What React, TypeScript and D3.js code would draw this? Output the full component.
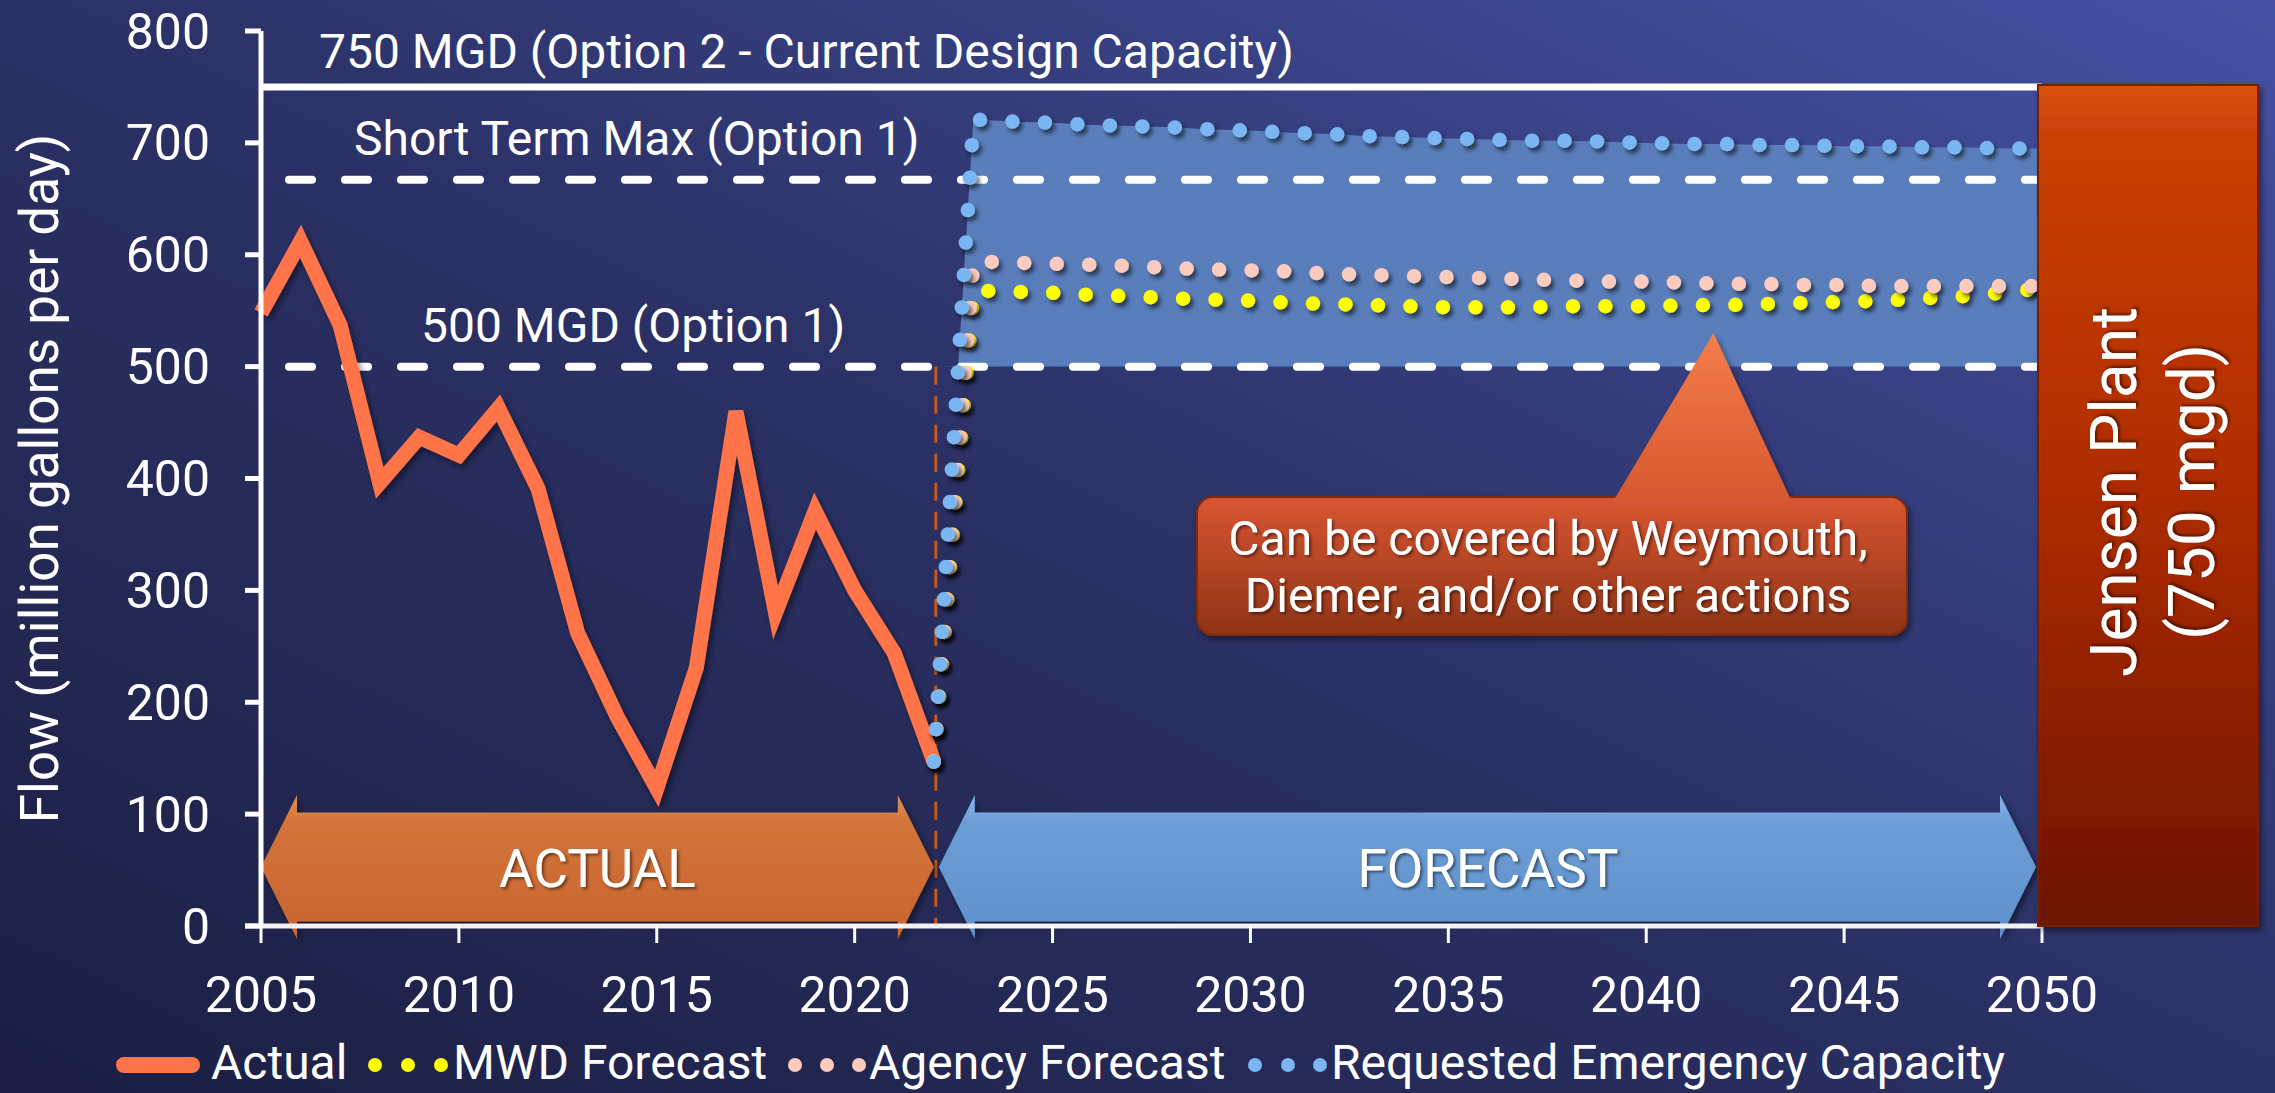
import React from "react";
import * as d3 from "d3";

const W = 2275;
const H = 1093;

// Historical flow, million gallons per day
const actualYears = [2005, 2006, 2007, 2008, 2009, 2010, 2011, 2012, 2013, 2014, 2015, 2016, 2017, 2018, 2019, 2020, 2021, 2022];
const actualFlow = [548, 612, 537, 396, 437, 421, 463, 391, 262, 187, 123, 231, 460, 280, 371, 300, 244, 147];

// Forecast horizon
const forecastYears = [2022, 2023, 2024, 2025, 2026, 2027, 2028, 2029, 2030, 2031, 2032, 2033, 2034, 2035, 2036, 2037, 2038, 2039, 2040, 2041, 2042, 2043, 2044, 2045, 2046, 2047, 2048, 2049, 2050];
const mwdForecast = [147, 568, 567, 566, 564, 563, 561, 560, 559, 557, 556, 555, 554, 553, 553, 553, 554, 554, 554, 555, 555, 556, 557, 558, 559, 561, 563, 566, 570];
const agencyForecast = [147, 594, 593, 592, 591, 590, 588, 587, 586, 585, 583, 582, 581, 580, 579, 578, 577, 576, 576, 575, 574, 574, 573, 573, 572, 572, 572, 572, 572];
const requestedCapacity = [147, 721, 719, 718, 716, 715, 714, 712, 711, 709, 708, 706, 705, 704, 703, 702, 702, 701, 700, 699, 699, 698, 698, 697, 697, 696, 696, 695, 695];

const yTicks = [0, 100, 200, 300, 400, 500, 600, 700, 800];
const xTicks = [2005, 2010, 2015, 2020, 2025, 2030, 2035, 2040, 2045, 2050];

// Capacity reference levels
const capacityLevels = [750, 667, 500];
const capacityLabels = ["750 MGD (Option 2 - Current Design Capacity)", "Short Term Max (Option 1)", "500 MGD (Option 1)"];
const capacityDashed = [false, true, true];

const bandFloor = 500;
const plantCapacity = 750;
const dividerYear = 2022;
const calloutTarget = { year: 2041.7, value: 530 };
const calloutLines = ["Can be covered by Weymouth,", "Diemer, and/or other actions"];
const plantLines = ["Jensen Plant", "(750 mgd)"];

const legendLabels = ["Actual", "MWD Forecast", "Agency Forecast", "Requested Emergency Capacity"];
const legendColors = ["#ff7449", "#ffff00", "#fbcbbd", "#7ab6f2"];

const FONT = "Roboto, 'Noto Sans', sans-serif";

const x = d3.scaleLinear().domain([2005, 2050]).range([261, 2042]);
const y = d3.scaleLinear().domain([0, 800]).range([926, 31]);

type Pt = [number, number];

const lineGen = d3
  .line<Pt>()
  .x((d) => x(d[0]))
  .y((d) => y(d[1]));

const bandGen = d3
  .area<Pt>()
  .x((d) => x(d[0]))
  .y0(() => y(bandFloor))
  .y1((d) => y(d[1]));

function zip(xs: number[], ys: number[]): Pt[] {
  return xs.map((v, i) => [v, ys[i]] as Pt);
}

function doubleArrow(x0: number, x1: number, yc: number, bodyHalf: number, headHalf: number, headLen: number) {
  const p = d3.path();
  p.moveTo(x0, yc);
  p.lineTo(x0 + headLen, yc - headHalf);
  p.lineTo(x0 + headLen, yc - bodyHalf);
  p.lineTo(x1 - headLen, yc - bodyHalf);
  p.lineTo(x1 - headLen, yc - headHalf);
  p.lineTo(x1, yc);
  p.lineTo(x1 - headLen, yc + headHalf);
  p.lineTo(x1 - headLen, yc + bodyHalf);
  p.lineTo(x0 + headLen, yc + bodyHalf);
  p.lineTo(x0 + headLen, yc + headHalf);
  p.closePath();
  return p.toString();
}

const dotted = {
  fill: "none",
  strokeWidth: 14.5,
  strokeLinecap: "round" as const,
  strokeLinejoin: "round" as const,
  strokeDasharray: "0 32.5",
};

export default function App() {
  const x0 = x(2005);
  const x1 = x(2050);
  const y0 = y(0);

  const arrowY = y0 - 59;
  const forecastSeries = [
    { values: mwdForecast, color: legendColors[1] },
    { values: agencyForecast, color: legendColors[2] },
    { values: requestedCapacity, color: legendColors[3] },
  ];

  const labelPos = [
    { x: 319, y: 68 },
    { x: 354, y: 155 },
    { x: 421, y: 342 },
  ];

  // callout geometry
  const apexX = x(calloutTarget.year);
  const apexY = y(calloutTarget.value);
  const box = { left: 1197, right: 1907, top: 497, bottom: 635 };
  const boxCx = (box.left + box.right) / 2;

  // plant column
  const plantLeft = x(2050) - 4;
  const plantRight = 2258;
  const plantTop = y(plantCapacity) - 2;

  // legend positions
  const legendBase = 1079;
  const legendMid = 1065;
  const dotXs = [
    [375, 408, 441],
    [795, 827, 859],
    [1255, 1288, 1320],
  ];
  const textXs = [211, 453, 869, 1331];

  return (
    <svg
      width={W}
      height={H}
      viewBox={`0 0 ${W} ${H}`}
      style={{ position: "absolute", left: 0, top: 0, display: "block" }}
      fontFamily={FONT}
    >
      <defs>
        <linearGradient id="bg" x1="0" y1="1" x2="1" y2="0">
          <stop offset="0" stopColor="#1c1f43" />
          <stop offset="0.5" stopColor="#2b3165" />
          <stop offset="1" stopColor="#4551a3" />
        </linearGradient>
        <linearGradient id="actualArrow" x1="0" y1="0" x2="0" y2="1">
          <stop offset="0" stopColor="#e08f52" />
          <stop offset="0.2" stopColor="#d2733a" />
          <stop offset="1" stopColor="#c9652f" />
        </linearGradient>
        <linearGradient id="forecastArrow" x1="0" y1="0" x2="0" y2="1">
          <stop offset="0" stopColor="#86b4e6" />
          <stop offset="0.2" stopColor="#6c9dd6" />
          <stop offset="1" stopColor="#5f90cb" />
        </linearGradient>
        <linearGradient id="plant" x1="0" y1="0" x2="0" y2="1">
          <stop offset="0" stopColor="#d9520f" />
          <stop offset="0.06" stopColor="#cb4006" />
          <stop offset="0.5" stopColor="#ad2b02" />
          <stop offset="1" stopColor="#6c1405" />
        </linearGradient>
        <linearGradient id="calloutBox" x1="0" y1="0" x2="0" y2="1">
          <stop offset="0" stopColor="#d95632" />
          <stop offset="1" stopColor="#8e3316" />
        </linearGradient>
        <linearGradient id="calloutTip" x1="0" y1="0" x2="0" y2="1">
          <stop offset="0" stopColor="#f57c4a" />
          <stop offset="1" stopColor="#d6582f" />
        </linearGradient>
        <filter id="dotShadow" x="-10%" y="-10%" width="120%" height="120%">
          <feDropShadow dx="3" dy="4" stdDeviation="2" floodColor="#000" floodOpacity="0.55" />
        </filter>
        <filter id="softShadow" x="-10%" y="-10%" width="120%" height="130%">
          <feDropShadow dx="3" dy="4" stdDeviation="3" floodColor="#000" floodOpacity="0.45" />
        </filter>
        <filter id="textShadow" x="-5%" y="-20%" width="110%" height="140%">
          <feDropShadow dx="2" dy="2" stdDeviation="1.5" floodColor="#000" floodOpacity="0.5" />
        </filter>
        <clipPath id="bandClip">
          <rect x={x(dividerYear)} y={0} width={x1 - x(dividerYear)} height={y(bandFloor)} />
        </clipPath>
      </defs>

      <rect x={0} y={0} width={W} height={H} fill="url(#bg)" />

      {/* Forecast capacity band above 500 MGD */}
      <path
        d={bandGen(zip(forecastYears, requestedCapacity)) || ""}
        fill="#5b80bd"
        fillOpacity={0.97}
        clipPath="url(#bandClip)"
      />

      {/* Capacity reference lines */}
      {capacityLevels.map((v, i) =>
        capacityDashed[i] ? (
          <line
            key={v}
            x1={x0 + 28}
            x2={x1}
            y1={y(v)}
            y2={y(v)}
            stroke="#ffffff"
            strokeWidth={8}
            strokeLinecap="round"
            strokeDasharray="23 33"
          />
        ) : (
          <line key={v} x1={x0 + 2} x2={x1} y1={y(v)} y2={y(v)} stroke="#ffffff" strokeWidth={7} />
        )
      )}
      {capacityLabels.map((t, i) => (
        <text key={t} x={labelPos[i].x} y={labelPos[i].y} fill="#ffffff" fontSize={48}>
          {t}
        </text>
      ))}

      {/* Actual / forecast divider */}
      <line
        x1={x(dividerYear) + 2}
        x2={x(dividerYear) + 2}
        y1={y(bandFloor)}
        y2={y0}
        stroke="#c8581a"
        strokeWidth={3}
        strokeDasharray="18 11"
      />

      {/* Actual flow */}
      <path
        d={lineGen(zip(actualYears, actualFlow)) || ""}
        fill="none"
        stroke={legendColors[0]}
        strokeWidth={15}
        strokeLinejoin="miter"
        filter="url(#softShadow)"
      />

      {/* Forecast series */}
      {forecastSeries.map((s) => (
        <path
          key={s.color}
          d={lineGen(zip(forecastYears, s.values)) || ""}
          stroke={s.color}
          filter="url(#dotShadow)"
          {...dotted}
        />
      ))}

      {/* Period arrows */}
      <path
        d={doubleArrow(x(2005), x(2022), arrowY, 54.5, 72, 36)}
        fill="url(#actualArrow)"
        filter="url(#softShadow)"
      />
      <path
        d={doubleArrow(x(2022) + 5, x(2050) - 6, arrowY, 54.5, 72, 36)}
        fill="url(#forecastArrow)"
        filter="url(#softShadow)"
      />
      <text
        x={(x(2005) + x(2022)) / 2}
        y={arrowY + 20}
        fill="#ffffff"
        fontSize={53}
        textAnchor="middle"
        filter="url(#textShadow)"
      >
        ACTUAL
      </text>
      <text
        x={(x(2022) + x(2050)) / 2}
        y={arrowY + 20}
        fill="#ffffff"
        fontSize={53}
        textAnchor="middle"
        filter="url(#textShadow)"
      >
        FORECAST
      </text>

      {/* Axes */}
      <line x1={x0} x2={x0} y1={y(800)} y2={y0} stroke="#ffffff" strokeWidth={5} />
      <line x1={x0 - 16} x2={x1} y1={y0} y2={y0} stroke="#f2f2f2" strokeWidth={5} />
      {yTicks.map((t) => (
        <g key={t}>
          <line x1={x0 - 16} x2={x0} y1={y(t)} y2={y(t)} stroke="#ffffff" strokeWidth={5} />
          <text x={210} y={y(t)} dy="0.35em" fill="#ffffff" fontSize={50} textAnchor="end">
            {t}
          </text>
        </g>
      ))}
      {xTicks.map((t) => (
        <g key={t}>
          <line x1={x(t)} x2={x(t)} y1={y0} y2={y0 + 17} stroke="#ffffff" strokeWidth={3} />
          <text x={x(t)} y={1012} fill="#ffffff" fontSize={50} textAnchor="middle">
            {t}
          </text>
        </g>
      ))}
      <text
        transform={`translate(58, ${(y(0) + y(800)) / 2}) rotate(-90)`}
        fill="#ffffff"
        fontSize={53}
        textAnchor="middle"
      >
        Flow (million gallons per day)
      </text>

      {/* Callout */}
      <g filter="url(#softShadow)">
        <rect
          x={box.left}
          y={box.top}
          width={box.right - box.left}
          height={box.bottom - box.top}
          rx={16}
          fill="url(#calloutBox)"
          stroke="#7d2a10"
          strokeWidth={2}
        />
        <path
          d={`M${apexX},${apexY} L${apexX + 77},${box.top + 2} L${apexX - 99},${box.top + 2} Z`}
          fill="url(#calloutTip)"
        />
      </g>
      {calloutLines.map((t, i) => (
        <text
          key={t}
          x={boxCx - 4}
          y={555 + i * 57}
          fill="#ffffff"
          fontSize={48}
          textAnchor="middle"
          filter="url(#textShadow)"
        >
          {t}
        </text>
      ))}

      {/* Jensen plant capacity column */}
      <rect
        x={plantLeft}
        y={plantTop}
        width={plantRight - plantLeft}
        height={y0 - plantTop}
        fill="url(#plant)"
        stroke="#7a1a06"
        strokeWidth={2}
        filter="url(#softShadow)"
      />
      {plantLines.map((t, i) => (
        <text
          key={t}
          transform={`translate(${2136 + i * 78}, 492) rotate(-90)`}
          fill="#ffffff"
          fontSize={64}
          textAnchor="middle"
          filter="url(#textShadow)"
        >
          {t}
        </text>
      ))}

      {/* Legend */}
      <rect x={116} y={legendMid - 8} width={84} height={16} rx={8} fill={legendColors[0]} />
      {dotXs.map((xs, i) =>
        xs.map((cx) => <circle key={`${i}-${cx}`} cx={cx} cy={legendMid} r={7} fill={legendColors[i + 1]} />)
      )}
      {legendLabels.map((t, i) => (
        <text key={t} x={textXs[i]} y={legendBase} fill="#ffffff" fontSize={48}>
          {t}
        </text>
      ))}
    </svg>
  );
}
